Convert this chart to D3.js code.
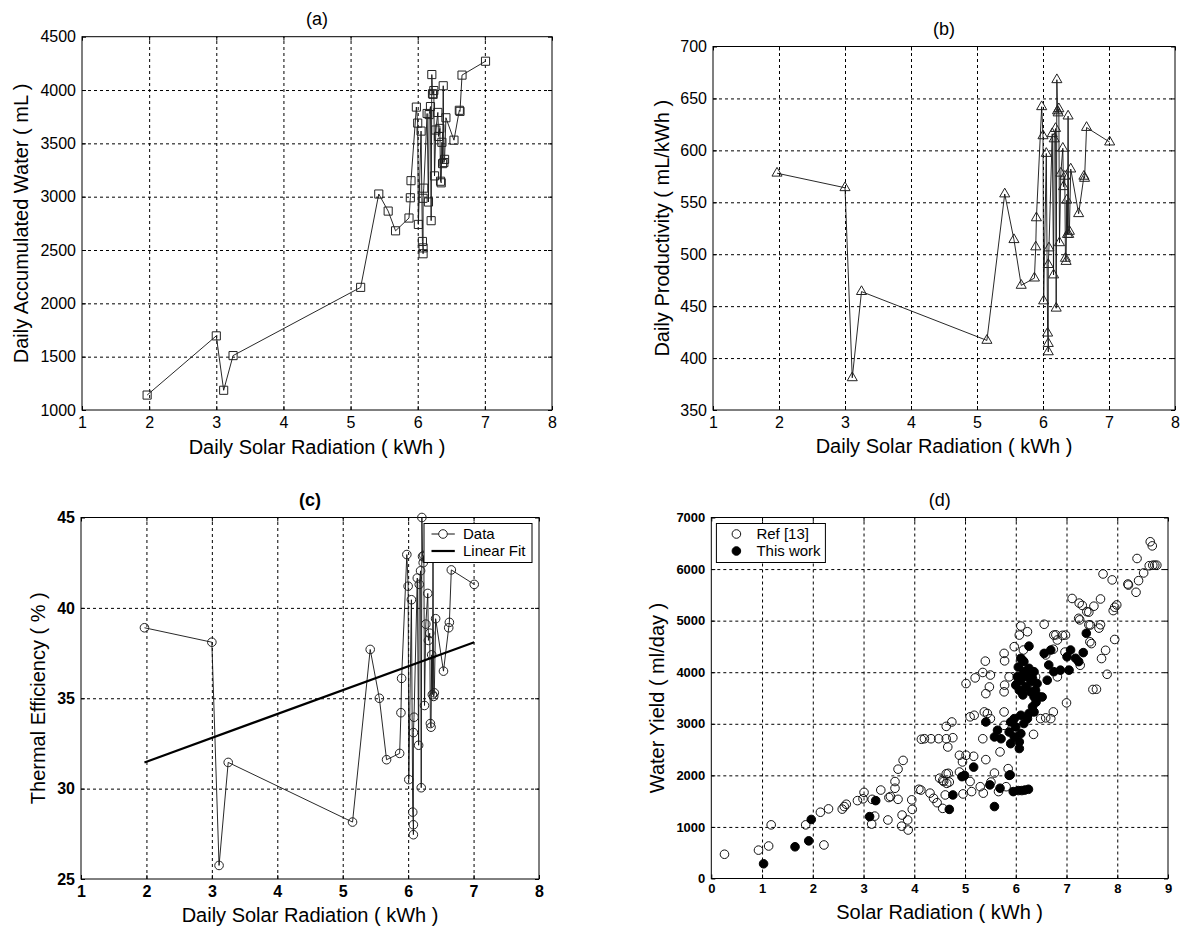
<!DOCTYPE html>
<html>
<head>
<meta charset="utf-8">
<script src="https://cdn.jsdelivr.net/npm/d3@7"></script>
<style>
  body { margin: 0; background: #fff; }
  text { font-family: "Liberation Sans", Arial, sans-serif; }
</style>
</head>
<body>
<svg id="fig"></svg>
<script>
// ---- data: panels (a)-(c), one entry per day, sorted by radiation ----
const radiation = [1.97, 3.00, 3.11, 3.25, 5.15, 5.42, 5.56, 5.67, 5.87, 5.89, 5.90, 5.98, 6.00, 6.01, 6.05, 6.07,
  6.08, 6.08, 6.08, 6.09, 6.14, 6.16, 6.17, 6.19, 6.20, 6.21, 6.22, 6.23, 6.24, 6.25, 6.27, 6.30, 6.31, 6.33,
  6.34, 6.35, 6.36, 6.37, 6.38, 6.39, 6.40, 6.42, 6.54, 6.62, 6.63, 6.66, 7.01];
const water = [1140, 1695, 1185, 1510, 2150, 3025, 2865, 2680, 2800, 2990, 3150, 3840, 3690, 2740, 3615, 2580,
  2520, 2465, 2985, 3080, 3780, 2950, 3770, 3845, 2775, 4145, 3965, 3960, 3995, 3195, 3625, 3790, 3565, 3640,
  3145, 3130, 3510, 3310, 4040, 3320, 3350, 3740, 3530, 3810, 3800, 4140, 4270];
const productivity = [578, 564, 381, 464, 417, 558, 514, 470, 477, 507, 535, 642, 614, 455, 597, 424,
  414, 406, 490, 506, 616, 480, 611, 621, 448, 668, 638, 636, 640, 511, 578, 602, 565, 575,
  496, 493, 552, 519, 633, 519, 522, 582, 539, 575, 573, 622, 608];
const efficiency = [38.9, 38.1, 25.75, 31.45, 28.15, 37.7, 35.0, 31.6, 31.95, 34.2, 36.1, 42.95, 41.2, 30.5, 40.45, 28.7,
  28.0, 27.45, 33.1, 33.95, 41.65, 32.4, 41.3, 42.05, 30.05, 45.0, 42.85, 42.5, 42.9, 34.6, 39.1, 40.8, 38.2, 38.6,
  33.6, 33.4, 37.4, 35.2, 42.8, 35.1, 35.3, 39.4, 36.5, 38.9, 39.2, 42.1, 41.3];
const fitX = [1.97, 7.01];
const fitY = [31.45, 38.1];

// ---- data: panel (d) ----
const refX = [0.26, 0.93, 1.13, 1.18, 1.86, 2.22, 2.15, 2.31, 2.58, 2.62, 2.66, 2.88, 2.99, 3.01, 3.17, 3.16, 3.22,
  3.34, 3.48, 3.50, 3.53, 3.62, 3.62, 3.68, 3.78, 3.68, 3.76, 3.75, 3.88, 3.87, 3.95, 3.96, 4.09, 4.14,
  7.11, 7.25, 7.40, 7.24, 7.47, 7.46, 6.56, 6.10, 6.07, 6.23, 6.75, 6.82, 6.98, 5.97, 6.15, 5.77, 5.78,
  5.40, 5.35, 5.20, 5.02, 5.50, 5.48, 5.41, 5.87, 5.78, 5.77, 6.03, 6.16, 6.33, 6.39, 6.82, 7.00, 7.52,
  6.59, 5.77, 5.77, 5.38, 5.44, 5.18, 5.10, 5.50, 6.49, 6.59, 6.69, 6.74, 6.35, 5.69, 4.74, 4.63, 4.20,
  4.33, 4.48, 4.63, 4.76, 4.66, 5.35, 4.89, 5.02, 5.17, 4.95, 5.41, 5.85, 4.89, 4.63, 4.56, 4.69, 5.58,
  5.51, 4.13, 4.31, 4.38, 4.50, 4.58, 4.67, 4.64, 4.45, 4.56, 4.61, 5.10, 4.96, 5.13, 5.30, 5.36, 5.66,
  5.81, 8.65, 8.69, 8.39, 8.70, 8.74, 8.78, 8.63, 8.52, 8.42, 8.21, 8.22, 8.37, 7.72, 7.90, 7.31, 7.44,
  7.54, 7.67, 7.92, 7.95, 7.99, 7.26, 7.44, 7.64, 7.67, 6.79, 6.92, 7.49, 7.95, 7.77, 7.69, 7.80, 7.59,
  7.27, 6.74, 6.97];
const refY = [470, 550, 630, 1040, 1040, 650, 1285, 1350, 1345, 1395, 1440, 1510, 1545, 1670, 1535, 1055, 1210,
  1715, 1135, 1570, 1590, 1750, 1880, 2120, 2290, 1535, 1230, 1015, 940, 1135, 1525, 1340, 1730, 2700,
  5430, 5340, 5175, 5045, 4915, 4590, 4930, 4895, 4720, 4785, 4720, 4625, 4720, 4495, 4430, 4365, 4220,
  4215, 3995, 3890, 3780, 3945, 3715, 3585, 3910, 3750, 3620, 3780, 3715, 3650, 3910, 3910, 3405, 3665,
  4335, 3230, 2970, 3230, 3200, 3165, 3135, 3100, 3100, 3115, 3100, 3230, 2795, 2455, 3035, 2950, 2710,
  2710, 2710, 2710, 2730, 2550, 2710, 2390, 2390, 2370, 2260, 2305, 2130, 2065, 2030, 1900, 1870, 2045,
  1870, 1715, 1655, 1555, 1945, 1880, 2040, 1845, 1470, 1360, 1620, 1880, 1640, 1685, 1780, 1655, 1685,
  1780, 6530, 6450, 6205, 6075, 6075, 6075, 6065, 5925, 5775, 5710, 5690, 5550, 5905, 5790, 5295, 5165,
  5280, 5420, 5195, 5260, 5305, 5015, 4920, 4855, 4920, 4725, 4715, 4555, 4635, 4425, 4265, 3960, 3670,
  4135, 4445, 4390];
const workX = [1.03, 1.65, 1.92, 1.97, 3.24, 3.12, 4.69, 4.76, 5.17, 4.94, 5.89, 5.49, 5.69, 5.58, 5.95, 6.05,
  6.12, 6.18, 6.25, 7.39, 6.26, 6.13, 6.23, 6.52, 6.56, 6.69, 6.65, 6.62, 6.75, 6.88, 7.08, 7.01, 7.18,
  7.33, 7.24, 7.05, 4.99, 5.87, 6.10, 6.16, 6.26, 6.36, 6.33, 6.23, 6.10, 6.00, 6.07, 6.20, 6.29, 6.39,
  6.46, 6.36, 6.42, 6.16, 6.03, 6.33, 6.26, 6.10, 5.97, 5.90, 6.00, 5.87, 5.97, 6.07, 6.07, 6.10, 6.16,
  6.23, 6.36, 5.64, 5.58, 5.71, 5.41, 5.90, 6.05, 6.18, 6.30, 6.14, 6.40];
const workY = [285, 615, 730, 1145, 1510, 1200, 1340, 1620, 2160, 1975, 2010, 1815, 1750, 1395, 1685, 1705,
  1705, 1715, 1730, 4755, 4505, 4235, 4040, 3520, 4365, 4430, 4140, 3845, 4010, 4040, 4430, 4300, 4270,
  4380, 4205, 4040, 2000, 2000, 4270, 4205, 4075, 4010, 3880, 3910, 3845, 3750, 3650, 3715, 3620, 3650,
  3525, 3525, 3780, 4010, 3910, 3330, 3200, 3165, 3100, 3035, 2940, 2840, 2745, 2650, 2520, 2810, 3005,
  3100, 3230, 2875, 2745, 2710, 3035, 2615, 4100, 3950, 3820, 3560, 3420];

// ---- tick values ----
const xTicksDay = [1, 2, 3, 4, 5, 6, 7, 8];
const yTicksWater = [1000, 1500, 2000, 2500, 3000, 3500, 4000, 4500];
const yTicksProd = [350, 400, 450, 500, 550, 600, 650, 700];
const yTicksEff = [25, 30, 35, 40, 45];
const xTicksSolar = [0, 1, 2, 3, 4, 5, 6, 7, 8, 9];
const yTicksYield = [0, 1000, 2000, 3000, 4000, 5000, 6000, 7000];

const svg = d3.select("#fig")
  .attr("width", 1182)
  .attr("height", 927)
  .style("background", "#fff");

// draws the frame, grid, tick labels and titles of one panel, returns its scales
function makePanel(cfg) {
  const x = d3.scaleLinear().domain(cfg.xDomain).range([cfg.left, cfg.right]);
  const y = d3.scaleLinear().domain(cfg.yDomain).range([cfg.bottom, cfg.top]);
  const g = svg.append("g");
  const h = cfg.bottom - cfg.top, w = cfg.right - cfg.left;

  // dashed grid
  g.append("g")
    .attr("transform", `translate(0,${cfg.bottom})`)
    .call(d3.axisBottom(x).tickValues(cfg.xTicks.slice(1, -1)).tickSize(-h).tickFormat(""))
    .call(a => a.select(".domain").remove())
    .call(a => a.selectAll("line").attr("stroke", "#000").attr("stroke-dasharray", "3,3"));
  g.append("g")
    .attr("transform", `translate(${cfg.left},0)`)
    .call(d3.axisLeft(y).tickValues(cfg.yTicks.slice(1, -1)).tickSize(-w).tickFormat(""))
    .call(a => a.select(".domain").remove())
    .call(a => a.selectAll("line").attr("stroke", "#000").attr("stroke-dasharray", "3,3"));

  // small inward ticks on all four sides
  const tickLen = 4;
  [[d3.axisBottom(x).tickValues(cfg.xTicks), `translate(0,${cfg.bottom})`],
   [d3.axisTop(x).tickValues(cfg.xTicks), `translate(0,${cfg.top})`],
   [d3.axisLeft(y).tickValues(cfg.yTicks), `translate(${cfg.left},0)`],
   [d3.axisRight(y).tickValues(cfg.yTicks), `translate(${cfg.right},0)`]].forEach(([ax, tr]) => {
    g.append("g").attr("transform", tr)
      .call(ax.tickSize(-tickLen).tickFormat(""))
      .call(a => a.select(".domain").remove())
      .call(a => a.selectAll("line").attr("stroke", "#000"));
  });

  // frame
  g.append("rect")
    .attr("x", cfg.left).attr("y", cfg.top)
    .attr("width", w).attr("height", h)
    .attr("fill", "none").attr("stroke", "#000").attr("stroke-width", 1);

  // tick labels
  g.append("g")
    .attr("transform", `translate(0,${cfg.bottom})`)
    .call(d3.axisBottom(x).tickValues(cfg.xTicks).tickSize(0).tickPadding(cfg.xPad).tickFormat(d3.format("d")))
    .call(a => a.select(".domain").remove())
    .attr("font-family", "Liberation Sans, Arial, sans-serif")
    .attr("font-size", cfg.tickFont)
    .attr("font-weight", cfg.tickWeight)
    .selectAll("text").attr("fill", "#000");
  g.append("g")
    .attr("transform", `translate(${cfg.left},0)`)
    .call(d3.axisLeft(y).tickValues(cfg.yTicks).tickSize(0).tickPadding(6).tickFormat(d3.format("d")))
    .call(a => a.select(".domain").remove())
    .attr("font-family", "Liberation Sans, Arial, sans-serif")
    .attr("font-size", cfg.tickFont)
    .attr("font-weight", cfg.tickWeight)
    .selectAll("text").attr("fill", "#000");

  // title and axis labels
  g.append("text")
    .attr("x", (cfg.left + cfg.right) / 2).attr("y", cfg.top - 18)
    .attr("dy", "0.35em")
    .style("text-anchor", "middle")
    .style("font-size", "18px")
    .style("font-weight", cfg.titleWeight)
    .text(cfg.title);
  g.append("text")
    .attr("x", (cfg.left + cfg.right) / 2).attr("y", cfg.bottom + cfg.xLabelOff)
    .attr("dy", "0.35em")
    .style("text-anchor", "middle")
    .style("font-size", "20px")
    .text(cfg.xLabel);
  g.append("text")
    .attr("transform", `translate(${cfg.left - cfg.yLabelOff},${(cfg.top + cfg.bottom) / 2}) rotate(-90)`)
    .attr("dy", "0.35em")
    .style("text-anchor", "middle")
    .style("font-size", "20px")
    .text(cfg.yLabel);

  return {g, x, y};
}

const lineStyle = sel => sel.attr("fill", "none").attr("stroke", "#111").attr("stroke-width", 0.9);

// ---------- (a) ----------
const pa = makePanel({
  left: 82, right: 552, top: 36.7, bottom: 410,
  xDomain: [1, 8], yDomain: [1000, 4500], xTicks: xTicksDay, yTicks: yTicksWater,
  xPad: 7, tickFont: "16px", tickWeight: "normal", titleWeight: "normal",
  title: "(a)", xLabel: "Daily Solar Radiation ( kWh )", yLabel: "Daily Accumulated Water ( mL )",
  xLabelOff: 37, yLabelOff: 61.5
});
pa.g.append("path")
  .datum(radiation.map((r, i) => [r, water[i]]))
  .attr("d", d3.line().x(d => pa.x(d[0])).y(d => pa.y(d[1])))
  .call(lineStyle);
pa.g.selectAll(".mk")
  .data(radiation.map((r, i) => [r, water[i]]))
  .join("path")
  .attr("d", d3.symbol(d3.symbolSquare, 66))
  .attr("transform", d => `translate(${pa.x(d[0])},${pa.y(d[1])})`)
  .attr("fill", "none").attr("stroke", "#222").attr("stroke-width", 1);

// ---------- (b) ----------
const pb = makePanel({
  left: 713, right: 1175, top: 46.5, bottom: 410,
  xDomain: [1, 8], yDomain: [350, 700], xTicks: xTicksDay, yTicks: yTicksProd,
  xPad: 7, tickFont: "16px", tickWeight: "normal", titleWeight: "normal",
  title: "(b)", xLabel: "Daily Solar Radiation ( kWh )", yLabel: "Daily Productivity ( mL/kWh )",
  xLabelOff: 36, yLabelOff: 50.6
});
pb.g.append("path")
  .datum(radiation.map((r, i) => [r, productivity[i]]))
  .attr("d", d3.line().x(d => pb.x(d[0])).y(d => pb.y(d[1])))
  .call(lineStyle);
pb.g.selectAll(".mk")
  .data(radiation.map((r, i) => [r, productivity[i]]))
  .join("path")
  .attr("d", d3.symbol(d3.symbolTriangle, 44))
  .attr("transform", d => `translate(${pb.x(d[0])},${pb.y(d[1])})`)
  .attr("fill", "none").attr("stroke", "#222").attr("stroke-width", 1);

// ---------- (c) ----------
const pc = makePanel({
  left: 81, right: 539, top: 517.5, bottom: 879,
  xDomain: [1, 8], yDomain: [25, 45], xTicks: xTicksDay, yTicks: yTicksEff,
  xPad: 7, tickFont: "16px", tickWeight: "bold", titleWeight: "bold",
  title: "(c)", xLabel: "Daily Solar Radiation ( kWh )", yLabel: "Thermal Efficiency ( % )",
  xLabelOff: 35.5, yLabelOff: 42.6
});
pc.g.append("path")
  .datum(radiation.map((r, i) => [r, efficiency[i]]))
  .attr("d", d3.line().x(d => pc.x(d[0])).y(d => pc.y(d[1])))
  .call(lineStyle);
pc.g.selectAll(".mk")
  .data(radiation.map((r, i) => [r, efficiency[i]]))
  .join("circle")
  .attr("cx", d => pc.x(d[0])).attr("cy", d => pc.y(d[1])).attr("r", 4.3)
  .attr("fill", "none").attr("stroke", "#222").attr("stroke-width", 1);
pc.g.append("path")
  .datum(fitX.map((v, i) => [v, fitY[i]]))
  .attr("d", d3.line().x(d => pc.x(d[0])).y(d => pc.y(d[1])))
  .attr("fill", "none").attr("stroke", "#000").attr("stroke-width", 2.2);

// legend (c)
const lc = pc.g.append("g").attr("transform", "translate(424,523.5)");
lc.append("rect").attr("width", 108).attr("height", 39).attr("fill", "#fff").attr("stroke", "#000");
lc.append("line").attr("x1", 7.5).attr("x2", 30.8).attr("y1", 10.5).attr("y2", 10.5).attr("stroke", "#111");
lc.append("circle").attr("cx", 19).attr("cy", 10.5).attr("r", 4.3).attr("fill", "#fff").attr("stroke", "#222");
lc.append("line").attr("x1", 7.5).attr("x2", 30.8).attr("y1", 27.5).attr("y2", 27.5).attr("stroke", "#000").attr("stroke-width", 2.2);
lc.append("text").attr("x", 39).attr("y", 10.5).attr("dy", "0.35em").style("font-size", "15px").text("Data");
lc.append("text").attr("x", 39).attr("y", 27.5).attr("dy", "0.35em").style("font-size", "15px").text("Linear Fit");

// ---------- (d) ----------
const pd = makePanel({
  left: 711.3, right: 1168, top: 517.5, bottom: 878.5,
  xDomain: [0, 9], yDomain: [0, 7000], xTicks: xTicksSolar, yTicks: yTicksYield,
  xPad: 5, tickFont: "13px", tickWeight: "bold", titleWeight: "normal",
  title: "(d)", xLabel: "Solar Radiation ( kWh )", yLabel: "Water Yield ( ml/day )",
  xLabelOff: 33.5, yLabelOff: 54
});
pd.g.selectAll(".ref")
  .data(refX.map((v, i) => [v, refY[i]]))
  .join("circle")
  .attr("cx", d => pd.x(d[0])).attr("cy", d => pd.y(d[1])).attr("r", 4.3)
  .attr("fill", "none").attr("stroke", "#111").attr("stroke-width", 1);
pd.g.selectAll(".work")
  .data(workX.map((v, i) => [v, workY[i]]))
  .join("circle")
  .attr("cx", d => pd.x(d[0])).attr("cy", d => pd.y(d[1])).attr("r", 4.3)
  .attr("fill", "#000").attr("stroke", "#000").attr("stroke-width", 1);

// legend (d)
const ld = pd.g.append("g").attr("transform", "translate(716.4,523.5)");
ld.append("rect").attr("width", 109).attr("height", 39).attr("fill", "#fff").attr("stroke", "#000");
ld.append("circle").attr("cx", 20).attr("cy", 10.5).attr("r", 4.3).attr("fill", "none").attr("stroke", "#111");
ld.append("circle").attr("cx", 20).attr("cy", 27.5).attr("r", 4.3).attr("fill", "#000").attr("stroke", "#000");
ld.append("text").attr("x", 40).attr("y", 10.5).attr("dy", "0.35em").style("font-size", "15px").text("Ref [13]");
ld.append("text").attr("x", 40).attr("y", 27.5).attr("dy", "0.35em").style("font-size", "15px").text("This work");
</script>
</body>
</html>
